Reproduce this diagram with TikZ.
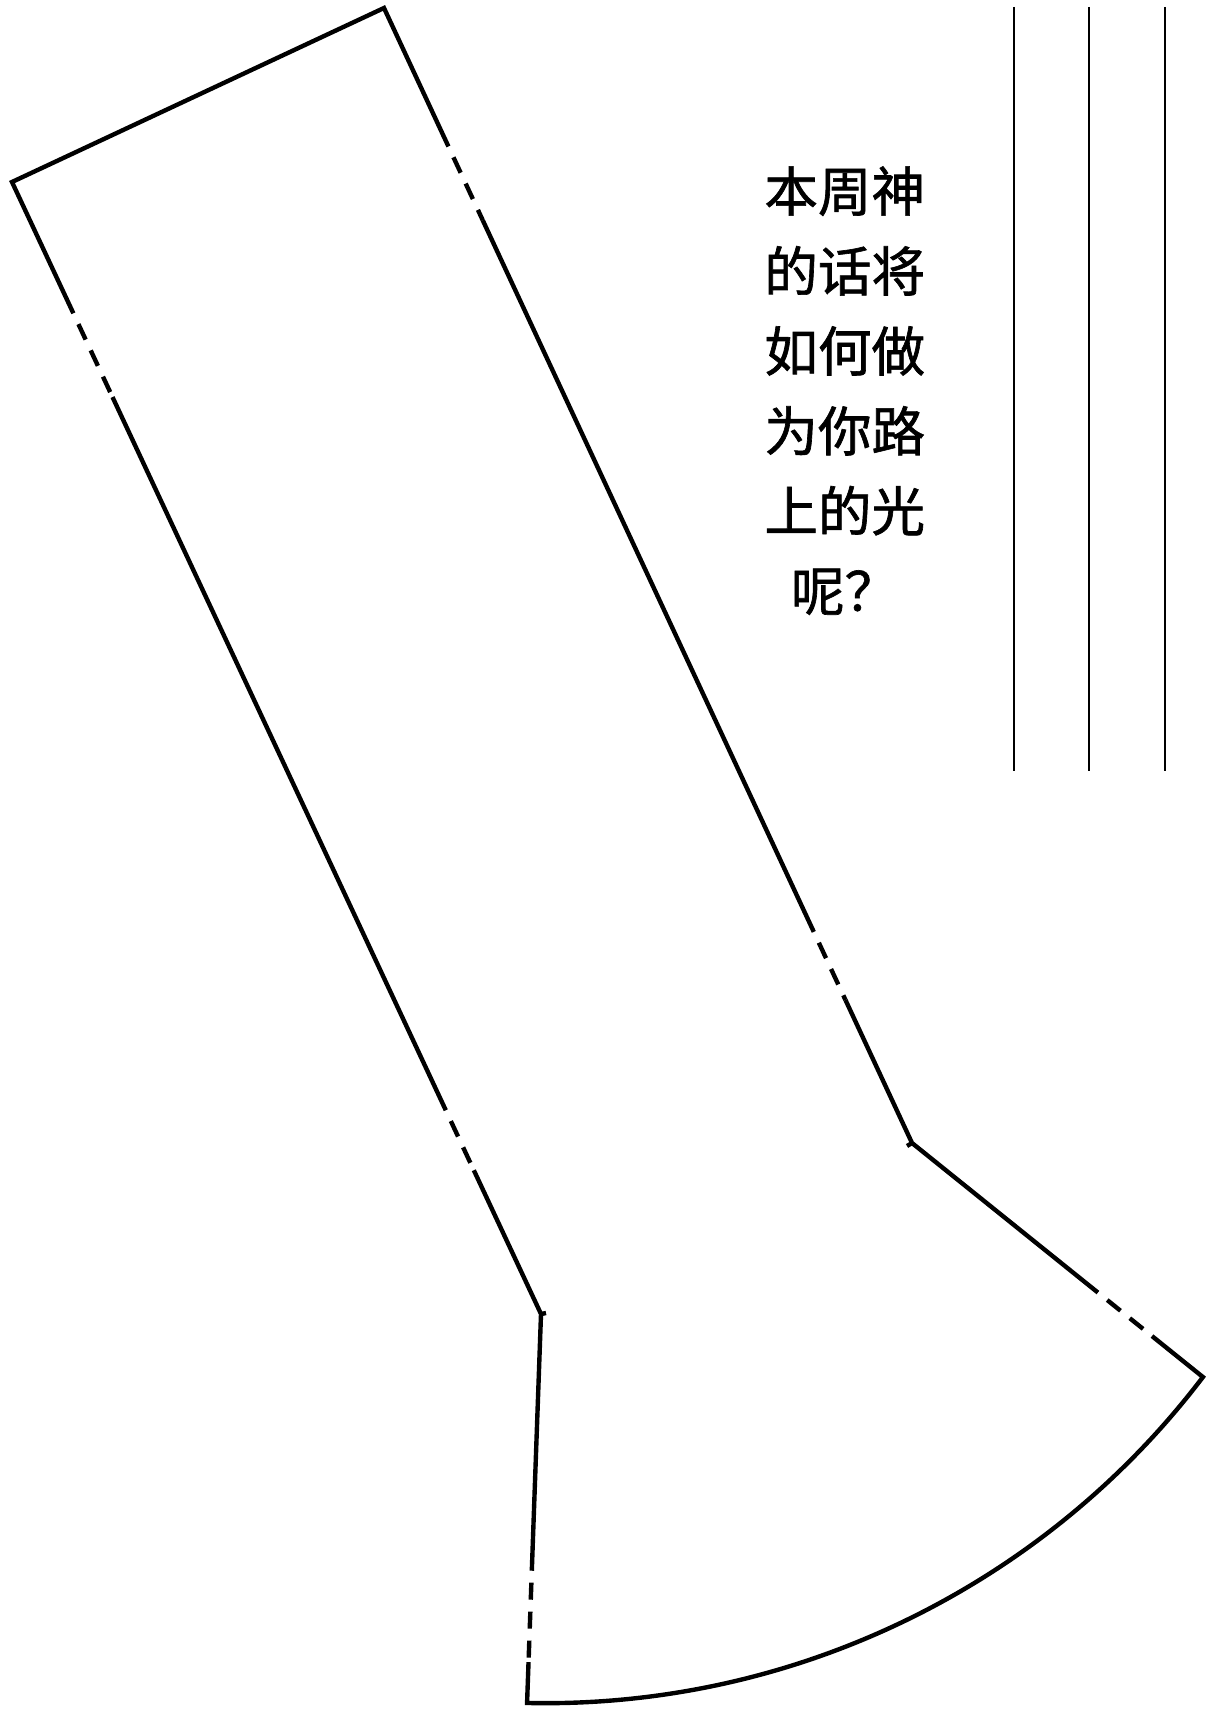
\documentclass[tikz,border=0pt]{standalone}
\usepackage{fontspec}
\newfontfamily\cjk{Noto Sans CJK SC}[FakeBold=1.2]
\usetikzlibrary{calc}

\begin{document}
\begin{tikzpicture}[x=0.02cm,y=-0.02cm,
    edge/.style={line width=2.5pt},
    cutline/.style={line width=2.5pt,dash pattern=on 9.7pt off 6.8pt,dash phase=9.7pt},
    rule/.style={line width=1.5pt}]
      \useasboundingbox (0,0) rectangle (1206,1716);
      % corners of the outline
      \coordinate (A) at (12,182);
      \coordinate (B) at (384,8);
      \coordinate (C) at (912,1143);
      \coordinate (E) at (541,1314);
      \coordinate (O) at (545.5,877.5);
      \coordinate (D) at ($(O)+(37.23:825.7)$);
      \coordinate (F) at ($(O)+(91.28:825.7)$);
      % solid parts
      \draw[edge] ($(A)!0.116!(E)$) -- (A) -- (B) -- ($(B)!0.122!(C)$);
      \draw[edge] ($(A)!0.19!(E)$) -- ($(A)!0.82!(E)$);
      \draw[edge] ($(A)!0.873!(E)$) -- (E) -- ($(E)!0.66!(F)$);
      \draw[edge] ($(B)!0.187!(C)$) -- ($(B)!0.814!(C)$);
      \draw[edge] ($(B)!0.874!(C)$) -- (C) -- ($(C)!0.639!(D)$);
      \draw[edge] ($(C)!0.825!(D)$) -- (D) arc[start angle=37.23,end angle=91.28,radius=825.7]
        -- ($(E)!0.895!(F)$);
      \draw[edge] (C) -- ++(-5,3);
      \draw[edge] (E) -- ++(5,-1);
      % dashed parts
      \draw[cutline] ($(A)!0.116!(E)$) -- ($(A)!0.19!(E)$);
      \draw[cutline] ($(A)!0.82!(E)$) -- ($(A)!0.873!(E)$);
      \draw[cutline] ($(B)!0.122!(C)$) -- ($(B)!0.187!(C)$);
      \draw[cutline] ($(B)!0.814!(C)$) -- ($(B)!0.874!(C)$);
      \draw[cutline] ($(C)!0.639!(D)$) -- ($(C)!0.825!(D)$);
      \draw[cutline] ($(E)!0.66!(F)$) -- ($(E)!0.895!(F)$);
      % writing lines
      \foreach \x in {1014,1089,1165}
        \draw[rule] (\x,7) -- (\x,771);
      \node[anchor=north west,inner sep=0pt,align=left,
            font=\cjk\fontsize{30.5}{45.5}\selectfont] (verse) at (764,166)
        {本周神\\的话将\\如何做\\为你路\\上的光\\\hspace*{0.5em}呢？};
\end{tikzpicture}
\end{document}
